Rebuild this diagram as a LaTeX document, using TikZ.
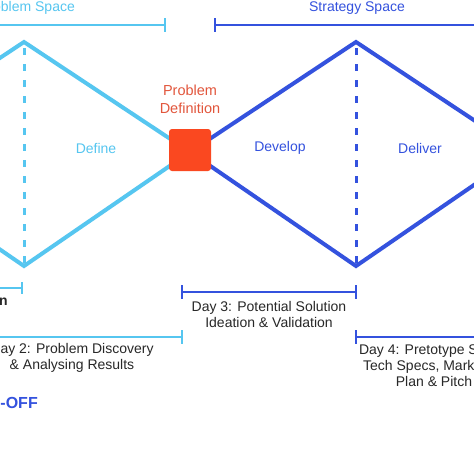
\documentclass[tikz,border=0pt]{standalone}
\usepackage{fontspec}
\setmainfont{Liberation Sans}
\definecolor{lblue}{RGB}{86,198,240}
\definecolor{dblue}{RGB}{52,82,222}
\definecolor{boxred}{RGB}{250,72,32}
\definecolor{deftext}{RGB}{226,86,60}
\definecolor{bodytext}{RGB}{40,40,40}
\tikzset{
  diam/.style={line width=4pt, line join=miter},
  dashv/.style={line width=3pt, dash pattern=on 7pt off 9pt},
  brk/.style={line width=1.6pt},
  lbl/.style={font=\fontsize{14}{16}\selectfont, inner sep=0pt},
  daytxt/.style={font=\fontsize{14}{16}\selectfont, text=bodytext, align=center, inner sep=0pt},
}
\begin{document}
\begin{tikzpicture}[x=1pt,y=-1pt]
\useasboundingbox (0,0) rectangle (474,474);
\clip (0,0) rectangle (474,474);
\fill[white] (0,0) rectangle (474,474);
% key points
\coordinate (c) at (190,152);
\coordinate (lp) at (24,42);
\coordinate (lb) at (24,266);
\coordinate (ll) at (-142,152);
\coordinate (rp) at (356,42);
\coordinate (rb) at (356,266);
\coordinate (rr) at (522,152);
% top brackets
\node[lbl, text=lblue] (ps) at (27,8) {Problem Space};
\node[lbl, text=dblue] (ss) at (357,8) {Strategy Space};
\coordinate (psl) at (-10,25); \coordinate (psr) at (165,25);
\draw[brk, lblue] (psl) -- (psr);
\draw[brk, lblue] (165,18) -- (165,32);
\coordinate (ssl) at (215,25); \coordinate (ssr) at (480,25);
\draw[brk, dblue] (ssl) -- (ssr);
\draw[brk, dblue] (215,18) -- (215,32);
% dashed lines
\draw[dashv, lblue] (24,48) -- (lb);
\draw[dashv, dblue] (356,48) -- (rb);
% diamonds
\draw[diam, lblue] (ll) -- (lp) -- (c) -- (lb) -- cycle;
\draw[diam, dblue] (c) -- (rp) -- (rr) -- (rb) -- cycle;
% box
\node[fill=boxred, rounded corners=3pt, minimum size=42pt, inner sep=0pt] (box) at (190,150) {};
\node[lbl, text=deftext, align=center, font=\fontsize{14.5}{18}\selectfont] (pd) at (190,99) {Problem\\Definition};
% phase labels
\node[lbl, text=lblue] (def) at (96,148) {Define};
\node[lbl, text=dblue] (dev) at (280,148) {Develop};
\node[lbl, text=dblue] (del) at (420,148) {Deliver};
% Day 1
\draw[brk, lblue] (-10,288) -- (22,288);
\draw[brk, lblue] (22,282) -- (22,294);
\node[font=\fontsize{14}{16}\selectfont\bfseries, text=bodytext, anchor=east, inner sep=0pt] (d1) at (8,302) {Day 1: Introduction};
% Day 3
\draw[brk, dblue] (182,292) -- (356,292);
\draw[brk, dblue] (182,285) -- (182,299);
\draw[brk, dblue] (356,285) -- (356,299);
\node[daytxt] (d3) at (269,314) {Day 3: Potential Solution\\Ideation \& Validation};
% Day 2
\draw[brk, lblue] (-10,337) -- (182,337);
\draw[brk, lblue] (182,330) -- (182,344);
\node[daytxt] (d2) at (72,358) {Day 2: Problem Discovery\\\& Analysing Results};
% Day 4
\draw[brk, dblue] (356,337) -- (480,337);
\draw[brk, dblue] (356,330) -- (356,344);
\node[daytxt] (d4) at (434,366) {Day 4: Pretotype Stage,\\Tech Specs, Marketing\\Plan \& Pitch};
% kick-off
\node[font=\fontsize{16}{18}\selectfont\bfseries, text=dblue, anchor=east, inner sep=0pt] (ko) at (38,403) {KICK-OFF};
\end{tikzpicture}
\end{document}
